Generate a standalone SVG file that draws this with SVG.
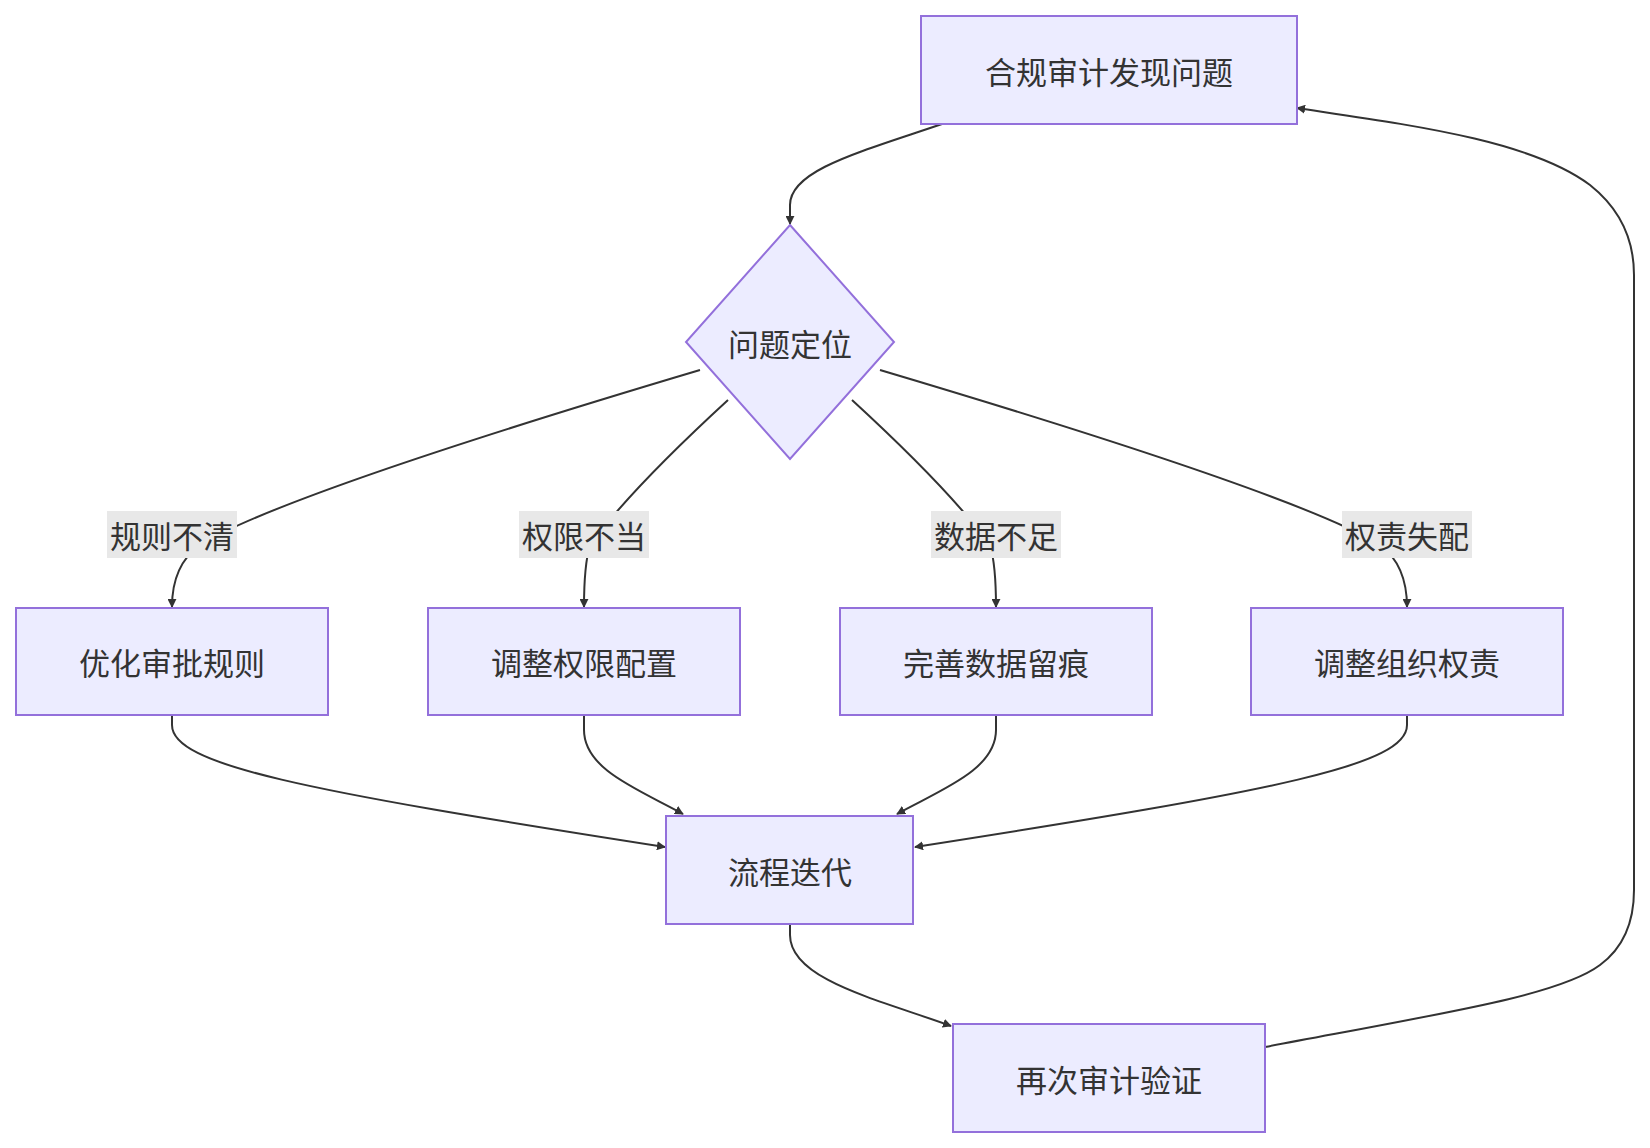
<svg xmlns="http://www.w3.org/2000/svg" width="1650" height="1148" viewBox="0 0 1650 1148">
<style>
.n{fill:#ECECFF;stroke:#9370DB;stroke-width:2}
.t{font-family:"Noto Sans CJK SC","Liberation Sans",sans-serif;font-size:31px;fill:#333;text-anchor:middle;dominant-baseline:central}
.e{fill:none;stroke:#333;stroke-width:2}
.lb{fill:#e8e8e8}
</style>
<defs><marker id="a" viewBox="0 0 10 10" refX="9" refY="5" markerWidth="9" markerHeight="9" markerUnits="userSpaceOnUse" orient="auto"><path d="M0,0L10,5L0,10z" fill="#333"/></marker></defs>
<rect width="1650" height="1148" fill="#fff"/>
<g id="edges">
<path class="e" marker-end="url(#a)" d="M942,124 C860,152 790,170 790,205 L790,224" transform="scale(1)"/>
<path class="e" marker-end="url(#a)" d="M700,370 Q280,495 200,545 Q172,565 172,607"/>
<path class="e" marker-end="url(#a)" d="M728,400 Q630,490 590,545 Q584,565 584,607"/>
<path class="e" marker-end="url(#a)" d="M852,400 Q950,490 990,545 Q996,565 996,607"/>
<path class="e" marker-end="url(#a)" d="M880,370 Q1300,495 1380,545 Q1407,565 1407,607"/>
<path class="e" marker-end="url(#a)" d="M172,715 L172,725 C172,765 300,790 665,847"/>
<path class="e" marker-end="url(#a)" d="M584,715 L584,730 C584,770 640,790 683,814"/>
<path class="e" marker-end="url(#a)" d="M996,715 L996,730 C996,770 940,790 897,814"/>
<path class="e" marker-end="url(#a)" d="M1407,715 L1407,725 C1407,765 1280,790 915,847"/>
<path class="e" marker-end="url(#a)" d="M790,924 L790,935 C790,980 880,1000 951,1026"/>
<path class="e" marker-end="url(#a)" d="M1265,1047 C1450,1012 1560,995 1600,965 Q1634,940 1634,890 L1634,275 Q1634,220 1590,185 C1530,140 1410,125 1297,108"/>
</g>
<g id="lbl1"><rect class="lb" x="107" y="511" width="130" height="47"/><text class="t" x="172" y="534">规则不清</text></g>
<g id="lbl2"><rect class="lb" x="519" y="511" width="130" height="47"/><text class="t" x="584" y="534">权限不当</text></g>
<g id="lbl3"><rect class="lb" x="931" y="511" width="130" height="47"/><text class="t" x="996" y="534">数据不足</text></g>
<g id="lbl4"><rect class="lb" x="1342" y="511" width="130" height="47"/><text class="t" x="1407" y="534">权责失配</text></g>
<g id="A"><rect class="n" x="921" y="16" width="376" height="108"/><text class="t" x="1109" y="70">合规审计发现问题</text></g>
<g id="B"><polygon class="n" points="790,225 894,342 790,459 686,342"/><text class="t" x="790" y="342">问题定位</text></g>
<g id="C1"><rect class="n" x="16" y="608" width="312" height="107"/><text class="t" x="172" y="661">优化审批规则</text></g>
<g id="C2"><rect class="n" x="428" y="608" width="312" height="107"/><text class="t" x="584" y="661">调整权限配置</text></g>
<g id="C3"><rect class="n" x="840" y="608" width="312" height="107"/><text class="t" x="996" y="661">完善数据留痕</text></g>
<g id="C4"><rect class="n" x="1251" y="608" width="312" height="107"/><text class="t" x="1407" y="661">调整组织权责</text></g>
<g id="D"><rect class="n" x="666" y="816" width="247" height="108"/><text class="t" x="790" y="870">流程迭代</text></g>
<g id="E"><rect class="n" x="953" y="1024" width="312" height="108"/><text class="t" x="1109" y="1078">再次审计验证</text></g>
</svg>
